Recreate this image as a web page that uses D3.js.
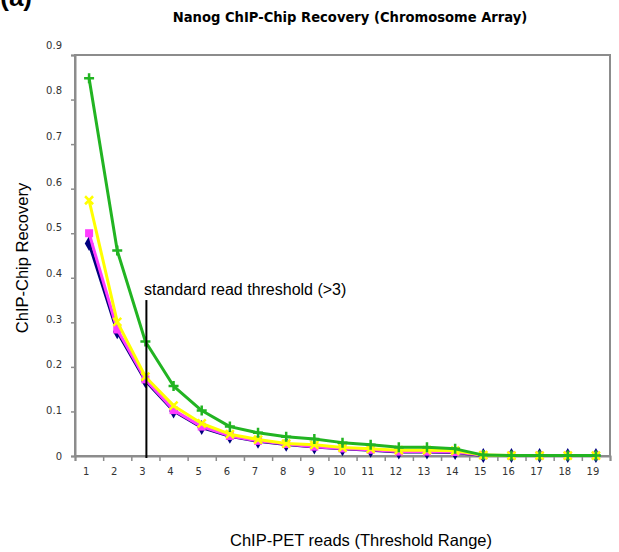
<!DOCTYPE html>
<html>
<head>
<meta charset="utf-8">
<script src="https://cdn.jsdelivr.net/npm/d3@7"></script>
<style>
  html, body { margin: 0; padding: 0; background: #fff; }
  svg { display: block; }
</style>
</head>
<body>
<svg id="chart" width="619" height="552"></svg>
<script>
// Read-count thresholds (x categories)
const thresholds = d3.range(1, 20).map(String);

// Recovery fraction for each of the four ChIP-PET libraries
const navySeries    = [0.477, 0.279, 0.169, 0.101, 0.064, 0.044, 0.033, 0.026, 0.020, 0.016, 0.013, 0.009, 0.009, 0.008, 0.001, 0.001, 0.001, 0.001, 0.001];
const magentaSeries = [0.500, 0.284, 0.172, 0.103, 0.066, 0.045, 0.034, 0.027, 0.021, 0.017, 0.014, 0.010, 0.010, 0.009, 0.0015, 0.001, 0.001, 0.001, 0.001];
const yellowSeries  = [0.574, 0.301, 0.178, 0.113, 0.073, 0.049, 0.037, 0.028, 0.025, 0.019, 0.016, 0.013, 0.013, 0.012, 0.002, 0.001, 0.001, 0.001, 0.001];
const greenSeries   = [0.848, 0.461, 0.257, 0.157, 0.102, 0.066, 0.052, 0.043, 0.038, 0.030, 0.025, 0.0195, 0.0195, 0.016, 0.002, 0.001, 0.001, 0.001, 0.001];

// Y axis tick values and the standard threshold marker
const yTicks = [0, 0.1, 0.2, 0.3, 0.4, 0.5, 0.6, 0.7, 0.8, 0.9];
const standardThreshold = "3";
const thresholdLineTop = 0.35;

const svg = d3.select("#chart");
const plotLeft = 75, plotRight = 610, plotTop = 55, plotBottom = 456;

const x = d3.scaleBand().domain(thresholds).range([plotLeft, plotRight]).padding(0);
const xEdge = d3.scaleLinear().domain([0, thresholds.length]).range([plotLeft, plotRight]);
const y = d3.scaleLinear().domain([0, 0.9]).range([plotBottom, plotTop]);
// tick labels are spread a little wider than the tick marks
const yLabel = d3.scaleLinear().domain([0, 0.9]).range([plotBottom, 45]);

// panel letter, cut by the top edge
svg.append("text")
  .attr("x", 32).attr("y", 6)
  .attr("text-anchor", "end")
  .attr("font-family", "Liberation Sans, Arial, sans-serif")
  .attr("font-weight", "bold")
  .attr("font-size", 26)
  .text("(a)");

// title
svg.append("text")
  .attr("x", 350).attr("y", 22)
  .attr("text-anchor", "middle")
  .attr("font-family", "DejaVu Sans Condensed, DejaVu Sans, sans-serif")
  .attr("font-stretch", "condensed")
  .attr("font-weight", "bold")
  .attr("font-size", 14.6)
  .attr("fill", "#000")
  .text("Nanog ChIP-Chip Recovery (Chromosome Array)");

// plot frame
svg.append("rect")
  .attr("x", plotLeft).attr("y", plotTop)
  .attr("width", plotRight - plotLeft).attr("height", plotBottom - plotTop)
  .attr("fill", "none")
  .attr("stroke", "#8c8c8c")
  .attr("stroke-width", 2);

// y axis
const yAxis = svg.append("g")
  .attr("transform", `translate(${plotLeft},0)`)
  .call(d3.axisLeft(y).tickValues(yTicks).tickSize(4).tickPadding(9)
    .tickFormat(d => d === 0 ? "0" : d3.format(".1f")(d)));
yAxis.select(".domain").attr("stroke", "#8c8c8c").attr("stroke-width", 2);
yAxis.selectAll(".tick line").attr("stroke", "#8c8c8c").attr("stroke-width", 1.5);
yAxis.selectAll(".tick text")
  .attr("y", d => yLabel(d) - y(d))
  .attr("font-family", "DejaVu Sans, Verdana, sans-serif")
  .attr("font-size", 10)
  .attr("fill", "#333");

// x axis: tick marks on band edges, labels on band centres
const xTickAxis = svg.append("g")
  .attr("transform", `translate(0,${plotBottom})`)
  .call(d3.axisBottom(xEdge).ticks(thresholds.length).tickSize(5).tickFormat(""));
xTickAxis.select(".domain").attr("stroke", "#8c8c8c").attr("stroke-width", 2);
xTickAxis.selectAll(".tick line").attr("stroke", "#8c8c8c").attr("stroke-width", 1.5);

const xLabelAxis = svg.append("g")
  .attr("transform", `translate(0,${plotBottom})`)
  .call(d3.axisBottom(x).tickSize(0).tickPadding(12));
xLabelAxis.select(".domain").remove();
xLabelAxis.selectAll(".tick text")
  .attr("dx", -3)
  .attr("font-family", "DejaVu Sans, Verdana, sans-serif")
  .attr("font-size", 10)
  .attr("fill", "#333");

// axis titles
svg.append("text")
  .attr("transform", "translate(28,258) rotate(-90)")
  .attr("text-anchor", "middle")
  .attr("font-family", "Liberation Sans, Arial, sans-serif")
  .attr("font-size", 16.5)
  .text("ChIP-Chip Recovery");

svg.append("text")
  .attr("x", 361).attr("y", 546)
  .attr("text-anchor", "middle")
  .attr("font-family", "Liberation Sans, Arial, sans-serif")
  .attr("font-size", 16.5)
  .text("ChIP-PET reads (Threshold Range)");

// series
const series = [
  { values: navySeries,    color: "#000080", marker: "diamond" },
  { values: magentaSeries, color: "#ff3cff", marker: "square" },
  { values: yellowSeries,  color: "#ffff00", marker: "cross" },
  { values: greenSeries,   color: "#22b422", marker: "plus" }
];

const cx = c => x(c) + x.bandwidth() / 2;
const line = d3.line().x(d => cx(d.c)).y(d => y(d.v));

series.forEach(s => {
  const pts = thresholds.map((c, i) => ({ c, v: s.values[i] }));
  svg.append("path")
    .datum(pts)
    .attr("fill", "none")
    .attr("stroke", s.color)
    .attr("stroke-width", 3)
    .attr("stroke-linejoin", "round")
    .attr("d", line);

  const g = svg.append("g");
  pts.forEach(p => {
    const px = cx(p.c), py = y(p.v);
    if (s.marker === "diamond") {
      g.append("path")
        .attr("d", d3.symbol(d3.symbolDiamond, 64)())
        .attr("transform", `translate(${px},${py})`)
        .attr("fill", s.color);
    } else if (s.marker === "square") {
      g.append("rect")
        .attr("x", px - 4).attr("y", py - 4)
        .attr("width", 8).attr("height", 8)
        .attr("fill", s.color);
    } else if (s.marker === "cross") {
      g.append("path")
        .attr("d", `M${px - 4},${py - 4}L${px + 4},${py + 4}M${px - 4},${py + 4}L${px + 4},${py - 4}`)
        .attr("stroke", s.color).attr("stroke-width", 2.5);
    } else {
      g.append("path")
        .attr("d", `M${px - 5},${py}L${px + 5},${py}M${px},${py - 5}L${px},${py + 5}`)
        .attr("stroke", s.color).attr("stroke-width", 2.5);
    }
  });
});

// standard read threshold marker
const tx = cx(standardThreshold) + 1;
svg.append("line")
  .attr("x1", tx).attr("x2", tx)
  .attr("y1", y(thresholdLineTop)).attr("y2", plotBottom + 2)
  .attr("stroke", "#000")
  .attr("stroke-width", 2);

svg.append("text")
  .attr("x", 144).attr("y", 295)
  .attr("font-family", "Liberation Sans, Arial, sans-serif")
  .attr("font-size", 16)
  .text("standard read threshold (>3)");
</script>
</body>
</html>
